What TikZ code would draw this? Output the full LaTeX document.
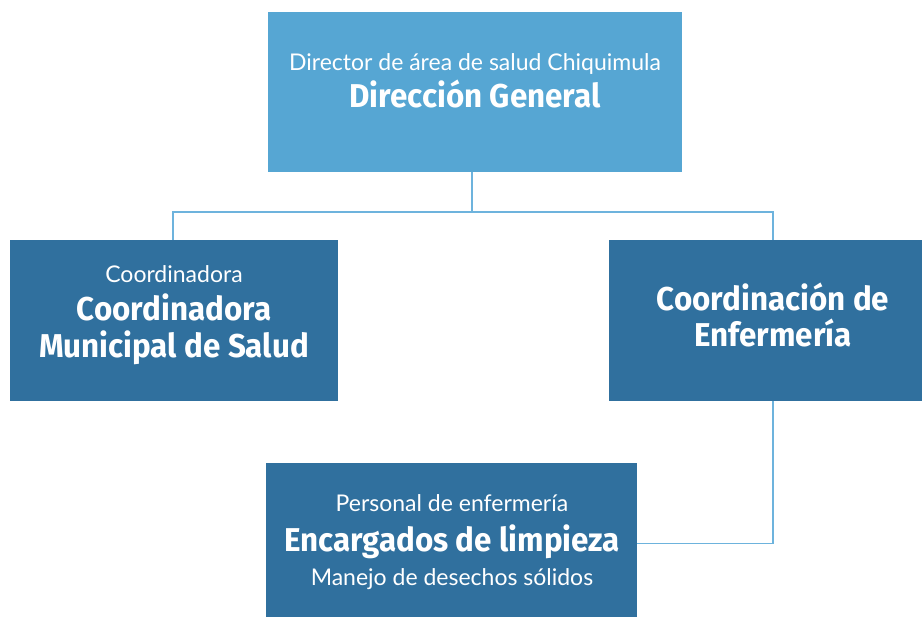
\documentclass[tikz,border=0pt]{standalone}
\usepackage{fontspec}
\setmainfont{Lato}
\newfontfamily\headfont{Fira Sans}[FakeStretch=0.95]
\usetikzlibrary{positioning}

\definecolor{lightbox}{HTML}{56A6D3}
\definecolor{darkbox}{HTML}{30709E}
\definecolor{linkline}{HTML}{6DB3DD}

\tikzset{
  unit/.style={fill=#1, draw=none, inner sep=0pt, anchor=north west},
  lite/.style={text=white, font=\fontsize{23}{27}\selectfont, anchor=base, inner sep=0pt},
  head/.style={text=white, font=\headfont\bfseries\fontsize{33}{37}\selectfont, anchor=base, inner sep=0pt},
  link/.style={draw=linkline, line width=1.4pt}
}

\begin{document}
\begin{tikzpicture}[x=1pt, y=-1pt]
\useasboundingbox (0,0) rectangle (922,618);

\node (D) at (268, 12) [unit=lightbox, minimum width=414pt, minimum height=160pt] {};
\node (C) at (10, 240) [unit=darkbox, minimum width=328pt, minimum height=161pt] {};
\node (E) at (609, 240) [unit=darkbox, minimum width=313pt, minimum height=161pt] {};
\node (L) at (266, 463) [unit=darkbox, minimum width=371pt, minimum height=154pt] {};

\node (D1) at (475, 70.7) [lite] {Director de área de salud Chiquimula};
\node (D2) at (475, 108) [head] {Dirección General};

\node (C1) at (174, 282.7) [lite] {Coordinadora};
\node (C2) at (174, 320) [head] {Coordinadora};
\node (C3) at (174, 357) [head] {Municipal de Salud};

\node (E1) at (773, 310) [head] {Coordinación de};
\node (E2) at (773, 346.7) [head] {Enfermería};

\node (L1) at (452, 511.7) [lite] {Personal de enfermería};
\node (L2) at (452, 551.7) [head] {Encargados de limpieza};
\node (L3) at (452, 585) [lite] {Manejo de desechos sólidos};

\coordinate (J) at (472, 212);

\draw[link] (D.south -| J) -- (J);
\draw[link] (J) -| (C.north -| 173, 0);
\draw[link] (J) -| (E.north -| 773, 0);
\draw[link] (E.south -| 773, 0) |- ([yshift=-3pt]L.east);
\end{tikzpicture}
\end{document}
